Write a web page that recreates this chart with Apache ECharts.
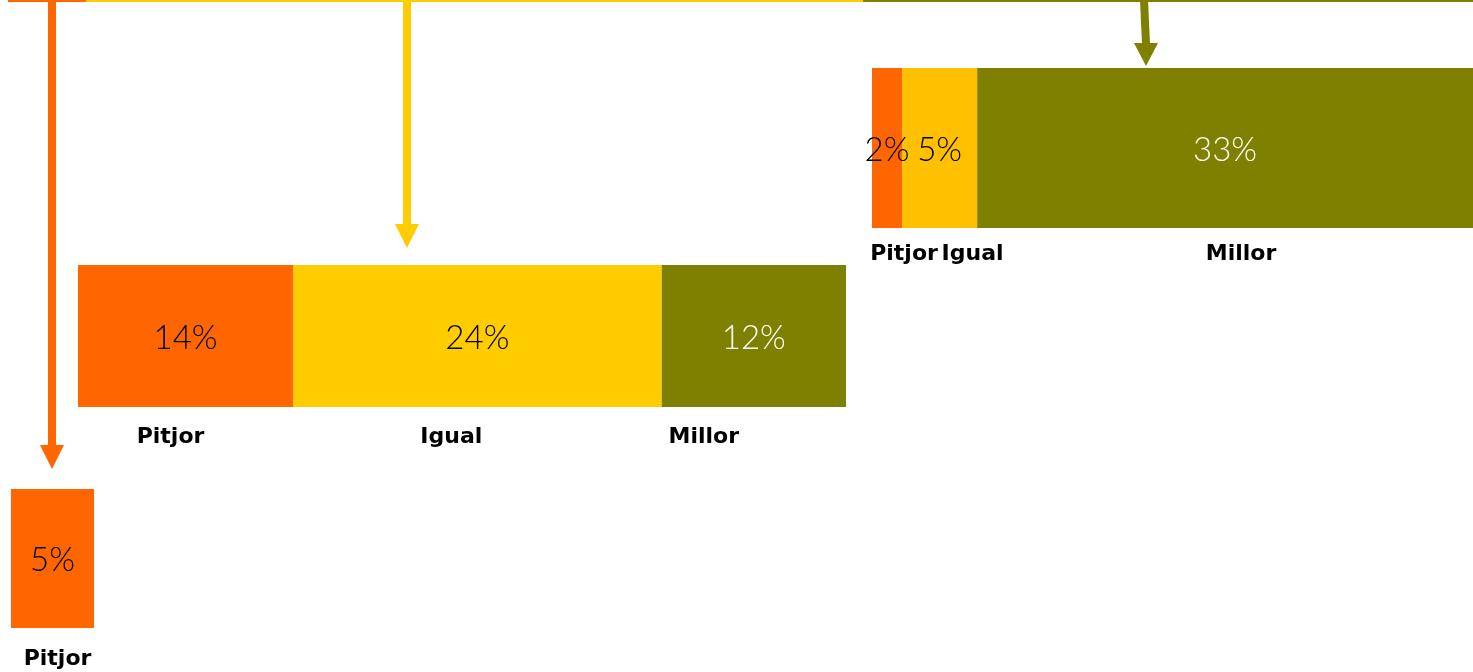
<!DOCTYPE html>
<html>
<head>
<meta charset="utf-8">
<style>
  html, body { margin: 0; padding: 0; background: #fff; }
  #chart { width: 1473px; height: 672px; }
</style>
<script src="https://cdn.jsdelivr.net/npm/echarts@6/dist/echarts.min.js"></script>
</head>
<body>
<div id="chart"></div>
<script>
// ---- Data ----
const categories = ['Pitjor', 'Igual', 'Millor'];
const millorGroupValues = [2, 5, 33];   // group reached from "Millor"
const igualGroupValues = [14, 24, 12];  // group reached from "Igual"
const pitjorGroupValues = [5];          // group reached from "Pitjor"

// ---- Styles / layout (not data) ----
const COLORS = { Pitjor: '#FF6600', Igual: '#FFCC00', Millor: '#808000' };
const TOP_YELLOW = '#FFC000';
const TEXT_COLORS = { Pitjor: '#000', Igual: '#000', Millor: '#fff' };

const layouts = [
  { values: millorGroupValues, grid: { left: 872, top: 68, width: 601, height: 160 },
    nameOffsets: [17, 33, 16], nameDy: 26, yellow: TOP_YELLOW },
  { values: igualGroupValues, grid: { left: 78, top: 265, width: 768, height: 142 },
    nameOffsets: [-15, -26, -50], nameDy: 30, yellow: COLORS.Igual },
  { values: pitjorGroupValues, grid: { left: 11, top: 489, width: 83, height: 139 },
    nameOffsets: [5], nameDy: 31, yellow: COLORS.Igual }
];

const grids = [], xAxes = [], yAxes = [], series = [];
layouts.forEach((L, gi) => {
  const total = L.values.reduce((a, b) => a + b, 0);
  grids.push(Object.assign({ containLabel: false }, L.grid));
  xAxes.push({ type: 'value', gridIndex: gi, min: 0, max: total, show: false });
  yAxes.push({ type: 'category', gridIndex: gi, data: ['g'], show: false, boundaryGap: true });
  let acc = 0;
  const data = L.values.map((v, i) => {
    const item = [acc, acc + v, v, i];
    acc += v;
    return item;
  });
  series.push({
    type: 'custom',
    xAxisIndex: gi,
    yAxisIndex: gi,
    data: data,
    silent: true,
    renderItem: function (params, api) {
      const s = api.value(0), e = api.value(1), v = api.value(2), ci = api.value(3);
      const cat = categories[ci];
      const p0 = api.coord([s, 0]);
      const p1 = api.coord([e, 0]);
      const h = api.size([0, 1])[1];
      const x0 = p0[0], x1 = p1[0], cy = p0[1];
      const fill = cat === 'Igual' ? L.yellow : COLORS[cat];
      const cx = (x0 + x1) / 2;
      return {
        type: 'group',
        children: [
          { type: 'rect', shape: { x: x0, y: cy - h / 2, width: x1 - x0, height: h }, style: { fill: fill } },
          { type: 'text', z2: 10, style: { text: v + '%', x: cx, y: cy + 2, align: 'center', verticalAlign: 'middle',
              fill: TEXT_COLORS[cat], fontFamily: 'Lato', fontWeight: 300, fontSize: 33 } },
          { type: 'text', z2: 10, style: { text: cat, x: cx + L.nameOffsets[ci], y: cy + h / 2 + L.nameDy,
              align: 'center', verticalAlign: 'middle', fill: '#000', fontFamily: 'DejaVu Sans',
              fontWeight: 'bold', fontSize: 22 } }
        ]
      };
    }
  });
});

// ---- Decorative connectors (arrows) ----
function arrow(color, xTop, xBot, yEnd, shaftW, headW, headH) {
  const yHead = yEnd - headH;
  return [
    { type: 'polygon', shape: { points: [[xTop - shaftW / 2, 0], [xTop + shaftW / 2, 0], [xBot + shaftW / 2, yHead + 1], [xBot - shaftW / 2, yHead + 1]] },
      style: { fill: color } },
    { type: 'polygon', shape: { points: [[xBot - headW / 2, yHead], [xBot + headW / 2, yHead], [xBot, yEnd]] },
      style: { fill: color } }
  ];
}
const graphics = [
  { type: 'rect', shape: { x: 8, y: 0, width: 78, height: 2 }, style: { fill: COLORS.Pitjor } },
  { type: 'rect', shape: { x: 86, y: 0, width: 777, height: 2 }, style: { fill: COLORS.Igual } },
  { type: 'rect', shape: { x: 863, y: 0, width: 610, height: 2 }, style: { fill: COLORS.Millor } }
].concat(
  arrow(COLORS.Pitjor, 52, 52, 469, 8, 24, 24),
  arrow(COLORS.Igual, 407, 407, 248, 8, 24, 24),
  arrow(COLORS.Millor, 1144, 1146, 66, 8, 24, 23)
);

const chart = echarts.init(document.getElementById('chart'), null, { renderer: 'canvas' });
chart.setOption({
  animation: false,
  backgroundColor: '#fff',
  grid: grids,
  xAxis: xAxes,
  yAxis: yAxes,
  series: series,
  graphic: graphics
});
</script>
</body>
</html>
